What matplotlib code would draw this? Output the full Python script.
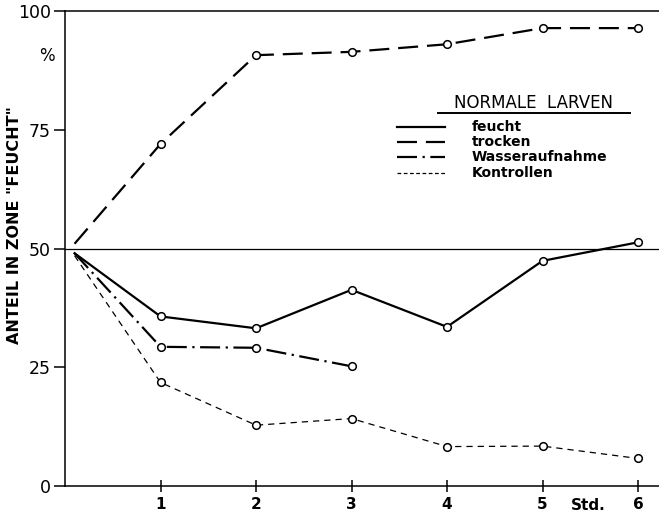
import matplotlib.pyplot as plt
from matplotlib.lines import Line2D

# hours after start ("Std."), first point is the common start just right of the axis
hours = [0.1, 1, 2, 3, 4, 5, 6]
feucht = [49.0, 35.7, 33.2, 41.3, 33.5, 47.4, 51.3]
trocken = [51.0, 72.0, 90.7, 91.4, 93.0, 96.4, 96.4]
wasser_hours = [0.1, 1, 2, 3]
wasseraufnahme = [49.0, 29.3, 29.1, 25.2]
kontrollen = [48.5, 21.8, 12.8, 14.2, 8.3, 8.4, 5.8]

y_ticks = [0, 25, 50, 75, 100]
x_ticks = [1, 2, 3, 4, 5, 6]

plt.rcParams['font.family'] = ['DejaVu Sans']

fig = plt.figure(figsize=(6.59, 5.15), dpi=100)
ax = fig.add_axes([65 / 659, 29 / 515, 594 / 659, 475 / 515])
ax.set_xlim(0, 594 / 95.5)
ax.set_ylim(0, 100)

lw = 1.6
dash_tr = (0, (9, 4))
dash_wa = (0, (9, 2.5, 1, 2.5))
dash_ko = (0, (5, 4))
mk = dict(marker='o', markersize=5.5, markerfacecolor='white', markeredgecolor='black',
          markeredgewidth=1.1, markevery=list(range(1, 7)))

ax.axhline(50, color='black', lw=0.9)

ax.plot(hours, feucht, color='black', lw=lw, linestyle='-', **mk)
ax.plot(hours, trocken, color='black', lw=lw, linestyle=dash_tr, **mk)
mk3 = dict(mk, markevery=[1, 2, 3])
ax.plot(wasser_hours, wasseraufnahme, color='black', lw=lw, linestyle=dash_wa, **mk3)
ax.plot(hours, kontrollen, color='black', lw=0.9, linestyle=dash_ko, **mk)

ax.spines['right'].set_visible(False)
for side in ['left', 'bottom', 'top']:
    ax.spines[side].set_linewidth(1.1)

ax.set_yticks(y_ticks)
ax.set_yticklabels([str(v) for v in y_ticks], fontsize=12.5)
ax.set_xticks(x_ticks)
ax.set_xticklabels([str(v) for v in x_ticks], fontsize=11, fontweight='bold')
ax.tick_params(axis='y', direction='out', length=8, width=1.1, pad=2)
ax.tick_params(axis='x', direction='inout', length=8, width=1.1, pad=4)

ax.text(5.48, -2.6, 'Std.', fontsize=11, fontweight='bold', ha='center', va='top')
ax.text(-0.19, 90.5, '%', fontsize=12, ha='center', va='center')

fig.text(15 / 659, 1 - 225 / 515, 'ANTEIL IN ZONE "FEUCHT"', rotation=90,
         fontsize=11.5, fontweight='semibold', ha='center', va='center')

# hand-drawn legend
fig.text(533 / 659, 1 - 103 / 515, 'NORMALE  LARVEN', fontsize=12,
         ha='center', va='center')
fig.add_artist(Line2D([438 / 659, 630 / 659], [1 - 113 / 515, 1 - 113 / 515],
                      color='black', lw=1.4))
labels = ['feucht', 'trocken', 'Wasseraufnahme', 'Kontrollen']
styles = [('-', lw), (dash_tr, lw), (dash_wa, lw), ((0, (3, 2)), 0.9)]
rows = [127, 142, 157, 173]
for lab, (ls, w), r in zip(labels, styles, rows):
    yy = 1 - r / 515
    fig.add_artist(Line2D([397 / 659, 445 / 659], [yy, yy], color='black', lw=w, linestyle=ls))
    fig.text(472 / 659, yy, lab, fontsize=10, fontweight='bold', ha='left', va='center')

fig.savefig('out.png', dpi=100)
